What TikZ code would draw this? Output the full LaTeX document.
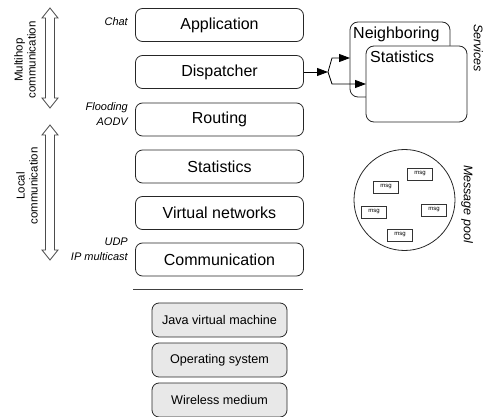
\documentclass[tikz,border=0pt]{standalone}
\usepackage{fontspec}
\setmainfont{Liberation Sans}
\usetikzlibrary{arrows.meta,calc}
\begin{document}
\begin{tikzpicture}[x=1pt,y=-1pt,
  layer/.style={draw=black!85,line width=0.8pt,rounded corners=7pt,minimum width=168pt,minimum height=33pt,inner sep=0pt,font=\fontsize{16}{18}\selectfont},
  base/.style={draw=black!85,line width=0.8pt,rounded corners=7pt,minimum width=135pt,minimum height=34pt,inner sep=0pt,fill=black!9,font=\fontsize{12.6}{15}\selectfont},
  proto/.style={font=\fontsize{11}{14.5}\selectfont\itshape,align=right,anchor=east,inner sep=0pt},
  side/.style={font=\fontsize{11.5}{13}\selectfont,align=center,rotate=90,inner sep=0pt},
  svc/.style={draw=black!85,line width=0.8pt,rounded corners=8pt,fill=white},
  msgbox/.style={draw=black!80,line width=0.8pt,minimum width=25pt,minimum height=12pt,inner sep=0pt,font=\fontsize{6}{7}\selectfont},
  darr/.style={draw=black!70,line width=0.8pt,fill=white},
  tip/.style={-{Triangle[length=11pt,width=8pt]},line width=0.8pt}
]
\useasboundingbox (0,0) rectangle (485,417);
\clip (0,0) rectangle (485,417);

% main stack
\node[layer] (app) at (219.5,25) {Application};
\node[layer] (disp) at (219.5,72) {Dispatcher};
\node[layer] (rout) at (219.5,119.5) {Routing};
\node[layer] (stat) at (219.5,166.5) {Statistics};
\node[layer] (vnet) at (219.5,213) {Virtual networks};
\node[layer] (comm) at (219.5,259.5) {Communication};

% separator
\coordinate (sepL) at (133,289);
\coordinate (sepR) at (303,289);
\draw[black!75,line width=1pt] (sepL) -- (sepR);

% base layers
\node[base] (jvm) at (219.5,320) {Java virtual machine};
\node[base] (os) at (219.5,360) {Operating system};
\node[base] (wm) at (219.5,400) {Wireless medium};

% protocol labels
\node[proto] (chat) at (128,22) {Chat};
\node[proto] (flood) at (128,114) {Flooding\\AODV};
\node[proto] (udp) at (128,249.5) {UDP\\IP multicast};

% double arrows
\path[darr] (50,8) -- (58,18) -- (54.5,18) -- (54.5,98) -- (58,98) -- (50,108) -- (42,98) -- (45.5,98) -- (45.5,18) -- (42,18) -- cycle;
\path[darr] (50,125) -- (58,135) -- (54.5,135) -- (54.5,250) -- (58,250) -- (50,260) -- (42,250) -- (45.5,250) -- (45.5,135) -- (42,135) -- cycle;
\node[side] (multi) at (25,60) {Multihop\\communication};
\node[side] (local) at (27,186) {Local\\communication};

% services
\draw[svc] (350,22) rectangle (450,97);
\node[anchor=north west,inner sep=0pt,font=\fontsize{16}{18}\selectfont] (nbt) at (353,27) {Neighboring};
\coordinate (nbw) at (350,58);
\draw[svc] (366,46) rectangle (467,122);
\node[anchor=north west,inner sep=0pt,font=\fontsize{16}{18}\selectfont] (stt) at (370,51) {Statistics};
\coordinate (stw) at (366,84);
\node[rotate=-90,anchor=south,inner sep=0pt,font=\fontsize{12.5}{14}\selectfont\itshape] (svcl) at (473.5,48) {Services};

% arrows
\coordinate (fork) at (328,72);
\coordinate (up) at (332,58);
\coordinate (dn) at (332,84);
\draw[tip] (disp.east) -- (fork);
\draw[tip] (fork) -- (up) -- (nbw);
\draw[tip] (fork) -- (dn) -- (stw);

% message pool
\draw[black!85,line width=0.8pt] (404.5,200) circle (50.5);
\node[msgbox] (m1) at (420,174) {msg};
\node[msgbox] (m2) at (386,187) {msg};
\node[msgbox] (m3) at (374,212) {msg};
\node[msgbox] (m4) at (434,210) {msg};
\node[msgbox] (m5) at (400,235) {msg};
\node[rotate=-90,anchor=south,inner sep=0pt,font=\fontsize{12.5}{14}\selectfont\itshape] (pool) at (461,204) {Message pool};
\end{tikzpicture}
\end{document}
